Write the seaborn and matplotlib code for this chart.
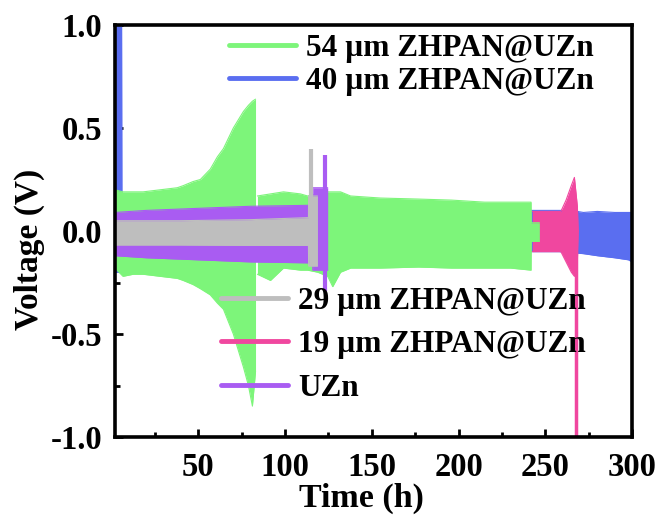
import matplotlib
matplotlib.use("Agg")
import matplotlib.pyplot as plt
from matplotlib.lines import Line2D
from matplotlib.ticker import MultipleLocator
import seaborn as sns

# Voltage envelopes (upper / lower bounds of the cycling profiles), time in h
t_40 = [2, 5.8, 6.0, 258, 265, 272, 280, 290, 298, 300]
up_40 = [1.0, 1.0, 0.10, 0.10, 0.10, 0.09, 0.095, 0.09, 0.09, 0.09]
lo_40 = [-0.20, -0.20, -0.10, -0.10, -0.105, -0.11, -0.12, -0.13, -0.14, -0.15]

t_54a = [2, 6.6, 12.4, 18.2, 28, 37.9, 41.3, 47, 51.2, 56.9, 61, 64.5, 70.2, 76, 78.9, 81.2, 83]
up_54a = [0.20, 0.19, 0.19, 0.19, 0.20, 0.21, 0.22, 0.24, 0.25, 0.30, 0.36, 0.40, 0.50, 0.58, 0.61, 0.63, 0.64]
lo_54a = [-0.18, -0.22, -0.21, -0.21, -0.22, -0.23, -0.24, -0.26, -0.28, -0.31, -0.35, -0.38, -0.50, -0.66, -0.75, -0.85, -0.68]

t_54b = [84.1, 91.6, 99.1, 108.9, 113, 118.8, 124.6, 127.5, 132, 137.8, 155, 177, 196, 215, 230, 241.8, 241.9, 246.6]
up_54b = [0.17, 0.18, 0.19, 0.18, 0.17, 0.18, 0.19, 0.19, 0.19, 0.17, 0.16, 0.155, 0.15, 0.14, 0.14, 0.14, 0.04, 0.04]
lo_54b = [-0.21, -0.24, -0.18, -0.19, -0.19, -0.20, -0.22, -0.27, -0.20, -0.18, -0.18, -0.175, -0.18, -0.18, -0.18, -0.19, -0.05, -0.05]

t_29 = [2, 40, 80, 113.5, 113.6, 118.7]
up_29 = [0.05, 0.05, 0.055, 0.065, 0.17, 0.17]
lo_29 = [-0.068, -0.068, -0.07, -0.07, -0.17, -0.17]

t_19 = [242.5, 259, 262, 265, 266.8, 268.5, 269]
up_19 = [0.095, 0.095, 0.15, 0.22, 0.26, 0.12, 0.0]
lo_19 = [-0.10, -0.10, -0.15, -0.20, -0.22, -0.15, 0.0]

t_uzn = [2, 20, 50, 80, 115.9, 116, 124.6]
up_uzn = [0.09, 0.10, 0.11, 0.12, 0.125, 0.21, 0.21]
lo_uzn = [-0.12, -0.13, -0.14, -0.15, -0.155, -0.19, -0.19]

# Short-circuit spikes: (time, low, high)
spike_29 = (114.7, 0.0, 0.40)
spike_uzn = (122.8, -0.29, 0.37)
spike_19 = (267.9, -1.0, -0.1)

labels = ["54 \u00b5m ZHPAN@UZn", "40 \u00b5m ZHPAN@UZn",
          "29 \u00b5m ZHPAN@UZn", "19 \u00b5m ZHPAN@UZn", "UZn"]
colors = {"54": "#7DF57A", "40": "#5A6EF0", "29": "#BEBEBE",
          "19": "#F0479F", "uzn": "#A95CF2"}

sns.set_theme(style="ticks")
plt.rcParams["font.family"] = ["Liberation Serif", "DejaVu Serif"]
plt.rcParams["font.weight"] = "bold"
plt.rcParams["axes.labelweight"] = "bold"
for key in ["text.color", "axes.labelcolor", "xtick.color", "ytick.color", "axes.edgecolor"]:
    plt.rcParams[key] = "black"

fig = plt.figure(figsize=(6.59, 5.25), dpi=100)
ax = fig.add_axes([115 / 659, 1 - 437 / 525, (632 - 115) / 659, (437 - 25) / 525])


def band(t, up, lo, color, z):
    ax.fill_between(t, lo, up, color=color, lw=0, zorder=z)
    sns.lineplot(x=t, y=up, color=color, lw=0.8, ax=ax, zorder=z)
    sns.lineplot(x=t, y=lo, color=color, lw=0.8, ax=ax, zorder=z)


band(t_40, up_40, lo_40, colors["40"], 1.0)
band(t_19, up_19, lo_19, colors["19"], 1.1)
ax.vlines(spike_19[0], spike_19[1], spike_19[2], color=colors["19"], lw=2.5, zorder=1.1)
band(t_54a, up_54a, lo_54a, colors["54"], 1.2)
band(t_54b, up_54b, lo_54b, colors["54"], 1.2)
band(t_uzn, up_uzn, lo_uzn, colors["uzn"], 1.3)
ax.vlines(spike_uzn[0], spike_uzn[1], spike_uzn[2], color=colors["uzn"], lw=3, zorder=1.3)
band(t_29, up_29, lo_29, colors["29"], 1.4)
ax.vlines(spike_29[0], spike_29[1], spike_29[2], color=colors["29"], lw=3, zorder=1.4)

ax.set_xlim(2, 300)
ax.set_ylim(-1.0, 1.0)
ax.set_xticks([50, 100, 150, 200, 250, 300])
ax.set_yticks([-1.0, -0.5, 0.0, 0.5, 1.0])
ax.set_yticklabels(["-1.0", "-0.5", "0.0", "0.5", "1.0"])
ax.xaxis.set_minor_locator(MultipleLocator(25))
ax.yaxis.set_minor_locator(MultipleLocator(0.25))

ax.tick_params(which="both", direction="in", width=2, color="black", top=False, right=False,
               labelsize=23.5, labelcolor="black")
ax.tick_params(axis="x", which="major", pad=11)
ax.tick_params(axis="y", which="major", pad=9)
ax.tick_params(which="major", length=6)
ax.tick_params(which="minor", length=3.5)
for lab in ax.get_xticklabels() + ax.get_yticklabels():
    lab.set_fontweight("bold")
for sp in ax.spines.values():
    sp.set_visible(True)
    sp.set_linewidth(2.6)
    sp.set_edgecolor("black")
    sp.set_zorder(10)

ax.set_xlabel("Time (h)", fontsize=24.5, fontweight="bold", color="black")
ax.set_ylabel("Voltage (V)", fontsize=24, fontweight="bold", color="black")
ax.xaxis.set_label_coords(0.476, -0.11)
ax.yaxis.set_label_coords(-0.135, 0.455)

h1 = [Line2D([], [], color=colors["54"], lw=3.5), Line2D([], [], color=colors["40"], lw=3.5)]
leg1 = ax.legend(h1, labels[:2], loc="upper left", bbox_to_anchor=(229 / 659, 1 - 34 / 525),
                 bbox_transform=fig.transFigure, frameon=False,
                 handlelength=2.15, handletextpad=0.32, labelspacing=0.12, borderpad=0,
                 borderaxespad=0, prop={"weight": "bold", "size": 22.5})
ax.add_artist(leg1)
h2 = [Line2D([], [], color=colors["29"], lw=3.5), Line2D([], [], color=colors["19"], lw=3.5),
      Line2D([], [], color=colors["uzn"], lw=3.5)]
leg2 = ax.legend(h2, labels[2:], loc="upper left", bbox_to_anchor=(221 / 659, 1 - 287 / 525),
                 bbox_transform=fig.transFigure, frameon=False,
                 handlelength=2.15, handletextpad=0.32, labelspacing=0.46, borderpad=0,
                 borderaxespad=0, prop={"weight": "bold", "size": 22.5})
for leg in (leg1, leg2):
    for txt in leg.get_texts():
        txt.set_color("black")

fig.savefig("out.png", dpi=100)
